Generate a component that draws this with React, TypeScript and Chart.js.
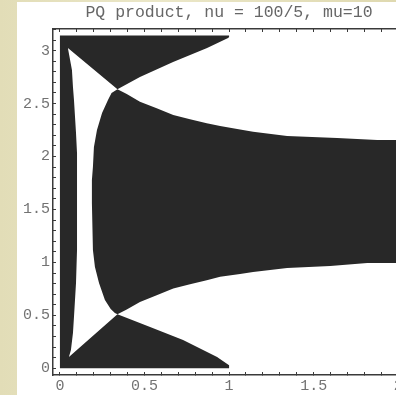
import { useEffect, useRef } from 'react';
import { Chart, registerables } from 'chart.js';

Chart.register(...registerables);

const TITLE = 'PQ product, nu = 100/5, mu=10';

// data domain of the region plot
const domainX = [0, 2];
const domainY = [0, 3.1416];

// right edge of the left black strip (top tip -> bottom tip)
const stripEdgeX = [0.047, 0.071, 0.077, 0.083, 0.095, 0.101, 0.101, 0.101, 0.095, 0.083, 0.077, 0.065, 0.053];
const stripEdgeY = [3.025, 2.817, 2.656, 2.533, 2.222, 2.033, 1.778, 1.117, 0.806, 0.484, 0.333, 0.173, 0.107];

// lower edge of the upper wedge (upper crossing -> x = 1)
const upperWedgeX = [0.34, 0.473, 0.669, 0.87, 0.994, 1.0, 1.0];
const upperWedgeY = [2.635, 2.751, 2.892, 3.025, 3.119, 3.128, 3.1416];

// upper edge of the lower wedge (lower crossing -> x = 1)
const lowerWedgeX = [0.34, 0.533, 0.728, 0.929, 1.0, 1.0];
const lowerWedgeY = [0.51, 0.39, 0.267, 0.107, 0.03, 0];

// left boundary of the main region (upper crossing -> lower crossing)
const coreLeftX = [0.34, 0.305, 0.284, 0.249, 0.219, 0.201, 0.195, 0.189, 0.189, 0.195, 0.207, 0.231, 0.266, 0.3, 0.325, 0.34];
const coreLeftY = [2.635, 2.6, 2.533, 2.411, 2.25, 2.089, 1.901, 1.778, 1.561, 1.117, 0.957, 0.806, 0.645, 0.56, 0.522, 0.51];

// upper boundary of the main region (upper crossing -> right)
const coreTopX = [0.34, 0.395, 0.473, 0.572, 0.67, 0.769, 0.868, 0.947, 1.065, 1.142, 1.343, 1.639, 1.876, 2.0];
const coreTopY = [2.635, 2.59, 2.518, 2.455, 2.392, 2.351, 2.313, 2.288, 2.255, 2.234, 2.193, 2.174, 2.156, 2.156];

// lower boundary of the main region (lower crossing -> right)
const coreBottomX = [0.34, 0.395, 0.473, 0.572, 0.67, 0.769, 0.868, 0.947, 1.065, 1.142, 1.343, 1.598, 1.817, 2.0];
const coreBottomY = [0.51, 0.555, 0.627, 0.69, 0.753, 0.794, 0.832, 0.865, 0.89, 0.909, 0.947, 0.966, 0.994, 0.994];

const xTickLabels = ['0', '0.5', '1', '1.5', '2'];
const yTickLabels = ['0', '0.5', '1', '1.5', '2', '2.5', '3'];

const FILL = '#282828';
const FRAME = '#3a3a3a';
const LABEL = '#727272';

const pts = (xs: number[], ys: number[]) => xs.map((x, i) => ({ x, y: ys[i] }));

export default function App() {
  const ref = useRef<HTMLCanvasElement>(null);

  useEffect(() => {
    if (!ref.current) return;
    const polyA = [
      { x: domainX[0], y: domainY[0] },
      ...pts(lowerWedgeX, lowerWedgeY).reverse(),
      ...pts(stripEdgeX, stripEdgeY).reverse(),
      ...pts(upperWedgeX, upperWedgeY),
      { x: domainX[0], y: domainY[1] },
    ];
    const polyB = [
      ...pts(coreTopX, coreTopY),
      ...pts(coreBottomX, coreBottomY).reverse(),
      ...pts(coreLeftX, coreLeftY).reverse(),
    ];

    const makeLabel = (list: string[]) => (v: any) => {
      const s = String(Math.round(Number(v) * 10) / 10);
      return list.includes(s) ? s : '';
    };
    const tickFont = { family: 'Liberation Mono', size: 15 };
    const grid = {
      display: true,
      drawOnChartArea: false,
      drawTicks: true,
      tickLength: -3,
      tickColor: FRAME,
      tickWidth: 1,
    };
    const border = { display: true, color: FRAME, width: 1.5 };

    const ds = (data: any[]) => ({
      data,
      showLine: true,
      fill: 'shape',
      backgroundColor: FILL,
      borderColor: 'rgba(0,0,0,0)',
      borderWidth: 0,
      pointRadius: 0,
      tension: 0,
    });

    const chart = new Chart(ref.current, {
      type: 'scatter',
      data: { datasets: [ds(polyA), ds(polyB)] as any },
      options: {
        animation: false,
        responsive: false,
        events: [],
        layout: { padding: { left: 0, top: 0, right: 15, bottom: 0 } },
        plugins: { legend: { display: false }, tooltip: { enabled: false } },
        scales: {
          x: {
            type: 'linear',
            position: 'bottom',
            min: -0.041,
            max: 2.04,
            ticks: {
              stepSize: 0.1,
              autoSkip: false,
              includeBounds: false,
              maxRotation: 0,
              callback: makeLabel(xTickLabels),
              font: tickFont,
              color: LABEL,
              padding: 5,
            },
            grid,
            border,
            afterFit: (s: any) => {
              s.height = 20;
            },
          },
          x2: {
            type: 'linear',
            position: 'top',
            min: -0.041,
            max: 2.04,
            ticks: {
              stepSize: 0.1,
              autoSkip: false,
              includeBounds: false,
              maxRotation: 0,
              callback: () => '',
              padding: 0,
            },
            grid,
            border,
            title: {
              display: true,
              text: TITLE,
              color: '#666666',
              font: { family: 'Liberation Mono', size: 16.5 },
              padding: { top: 3, bottom: 0 },
            },
            afterFit: (s: any) => {
              s.height = 29;
            },
          },
          y: {
            type: 'linear',
            position: 'left',
            min: -0.063,
            max: 3.204,
            ticks: {
              stepSize: 0.1,
              autoSkip: false,
              includeBounds: false,
              callback: makeLabel(yTickLabels),
              font: tickFont,
              color: LABEL,
              padding: 6,
            },
            grid,
            border,
            afterFit: (s: any) => {
              s.width = 53;
            },
          },
        } as any,
      },
    });
    return () => chart.destroy();
  }, []);

  return (
    <div
      style={{
        position: 'fixed',
        left: 0,
        top: 0,
        width: 396,
        height: 395,
        overflow: 'hidden',
        background:
          'linear-gradient(90deg, #e2ddb7 0%, #ebe7c8 40%, #dfd9b0 100%)',
      }}
    >
      <div
        style={{
          position: 'absolute',
          left: 17,
          top: 2,
          right: 0,
          bottom: 0,
          background: '#ffffff',
        }}
      />
      <canvas
        ref={ref}
        width={420}
        height={395}
        style={{ position: 'absolute', left: 0, top: 0 }}
      />
    </div>
  );
}
